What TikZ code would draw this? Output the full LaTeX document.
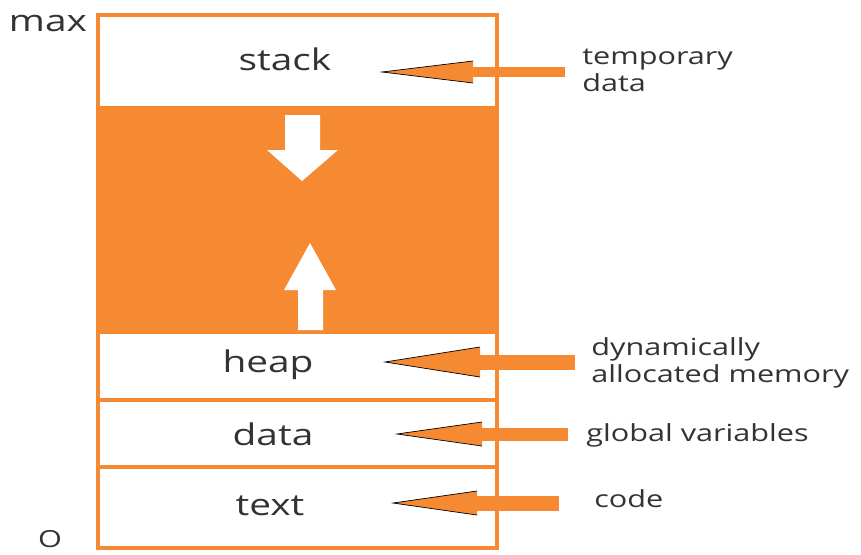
\documentclass[tikz,border=0pt]{standalone}
\usepackage{fontspec}
\setmainfont{Open Sans}
% Widen text the way the reference does
\newcommand{\widetext}[1]{\scalebox{1.3}[1]{\begin{tabular}{@{}l@{}}#1\end{tabular}}}
\begin{document}
\begin{tikzpicture}[x=0.02cm,y=-0.02cm]
    % Define colours
    \definecolor{segColour}{HTML}{F68A33}
    \definecolor{labelColour}{HTML}{333333}

    % Define styles
    \tikzset{
        segLabel/.style={text=labelColour, inner sep=0pt, font=\fontsize{17}{20}\selectfont},
        sideLabel/.style={text=labelColour, inner sep=0pt, anchor=west,
            font=\fontsize{13.4}{15.4}\selectfont},
    }

    % Fix the picture size
    \useasboundingbox (0,0) rectangle (861,554);

    % Draw the free region between stack and heap
    \fill[segColour] (98,108) rectangle (497,332);

    % Draw the memory outline and the dividers
    \draw[segColour, line width=2.8pt] (98,15) rectangle (497,548);
    \foreach \y in {108,332,400,467}
        \draw[segColour, line width=2.8pt] (98,\y) -- (497,\y);

    % Draw the growth arrows
    \fill[white] (285,115) -- (320,115) -- (320,150) -- (338,150) -- (302,181)
        -- (267,150) -- (285,150) -- cycle;
    \fill[white] (298,330) -- (323,330) -- (323,290) -- (336,290) -- (310,243)
        -- (284,290) -- (298,290) -- cycle;

    % Label the segments
    \node[segLabel] (stack) at (285,63) {\widetext{stack}};
    \node[segLabel] (heap) at (268,365) {\widetext{heap}};
    \node[segLabel] (data) at (273,438) {\widetext{data}};
    \node[segLabel] (text) at (270,508) {\widetext{text}};

    % Label the addresses
    \node[segLabel] (max) at (48,24) {\widetext{max}};
    \node[sideLabel, anchor=base] (zero) at (50,548) {\widetext{O}};

    % Draw the pointer arrows
    \foreach \tipx/\y/\basex/\hh/\endx/\sh in {382/72/473/11/565/5,
        385/362/480/15/575/7.5, 397/434/482/12/568/6.5, 393/503/477/12/559/7.5}
    {
        \fill[segColour] (\basex-1,\y-\sh) rectangle (\endx,\y+\sh);
        \fill[segColour] (\tipx,\y) -- (\basex,\y-\hh) -- (\basex,\y+\hh) -- cycle;
        \draw[black, thin] (\basex,\y-\hh) -- (\tipx,\y) -- (\basex,\y+\hh);
    }

    % Describe the segments
    \node[sideLabel] (temp) at (582,73) {\widetext{temporary\\data}};
    \node[sideLabel] (dyn) at (591,364) {\widetext{dynamically\\allocated memory}};
    \node[sideLabel] (glob) at (586,436) {\widetext{global variables}};
    \node[sideLabel] (code) at (594,502) {\widetext{code}};

\end{tikzpicture}
\end{document}
